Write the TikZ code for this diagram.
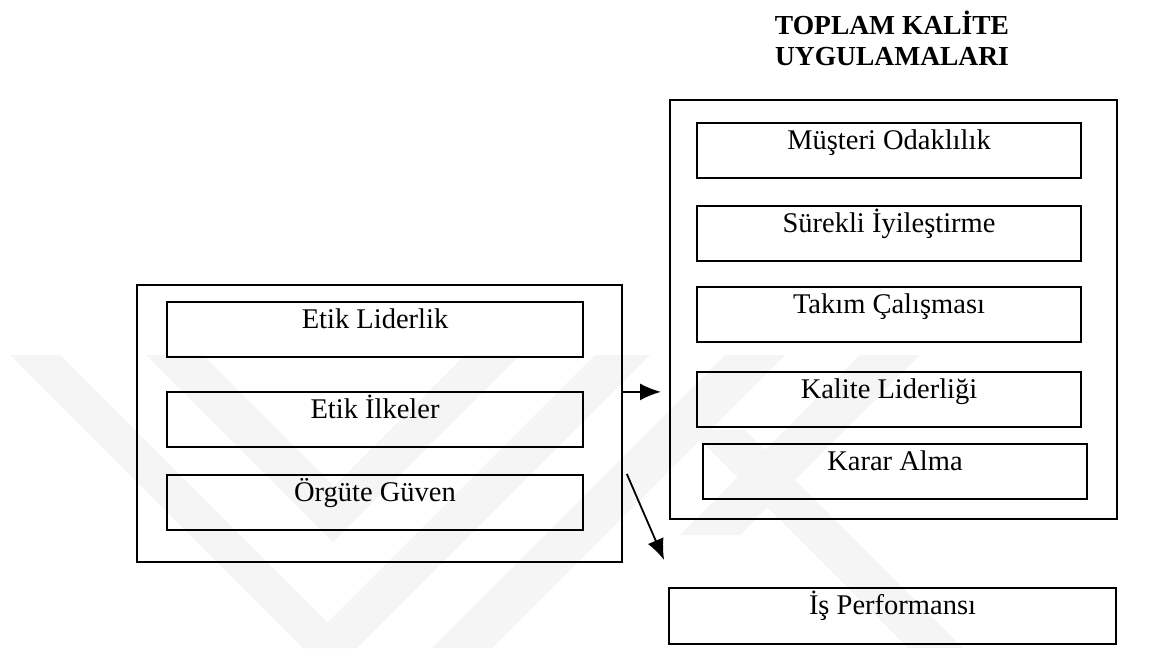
\documentclass[tikz,border=0pt]{standalone}
\usepackage{fontspec}
\setmainfont{Liberation Serif}
\usetikzlibrary{arrows.meta}
\begin{document}
\begin{tikzpicture}[x=1pt,y=1pt,
  every node/.style={font=\fontsize{28.5}{32}\selectfont},
  frame/.style={draw=black, line width=1.8pt, inner sep=0pt},
  itembox/.style={draw=black, line width=1.8pt, inner xsep=0pt, inner ysep=0pt,
    text height=27pt, text depth=28pt, anchor=north},
  arr/.style={line width=1.8pt, -{Latex[length=21pt,width=17pt]}},
  wm/.style={fill=black!4, draw=none}]
\useasboundingbox (0,0) rectangle (1167,-648);
% faint watermark
\begin{scope}
\clip (0,-355) rectangle (1167,-648);
\fill[wm] (10,-355) -- (60,-355) -- (353,-648) -- (303,-648) -- cycle;
\fill[wm] (595,-355) -- (650,-355) -- (357,-648) -- (302,-648) -- cycle;
\fill[wm] (146,-355) -- (203,-355) -- (361.5,-513.5) -- (333,-542) -- cycle;
\fill[wm] (465,-355) -- (520,-355) -- (333,-542) -- (305.5,-514.5) -- cycle;
\fill[wm] (725,-355) -- (785,-355) -- (492,-648) -- (432,-648) -- cycle;
\fill[wm] (860,-355) -- (920,-355) -- (740,-535) -- (680,-535) -- cycle;
\fill[wm] (690,-430) -- (745,-430) -- (963,-648) -- (908,-648) -- cycle;
\end{scope}
% title
\node[font=\fontsize{27.5}{31}\selectfont\bfseries, anchor=base] (t1) at (892,-34) {TOPLAM KALİTE};
\node[font=\fontsize{27.5}{31}\selectfont\bfseries, anchor=base] (t2) at (892,-65) {UYGULAMALARI};
% left group
\node[frame, minimum width=485pt, minimum height=277pt, anchor=north west] (L) at (136,-284) {};
\node[itembox, minimum width=416pt] (l1) at (375,-301) {Etik Liderlik};
\node[itembox, minimum width=416pt] (l2) at (375,-391) {Etik İlkeler};
\node[itembox, minimum width=416pt] (l3) at (375,-474) {Örgüte Güven};
% right group
\node[frame, minimum width=447pt, minimum height=419pt, anchor=north west] (R) at (669,-99) {};
\node[itembox, minimum width=384pt] (r1) at (889,-122) {Müşteri Odaklılık};
\node[itembox, minimum width=384pt] (r2) at (889,-205) {Sürekli İyileştirme};
\node[itembox, minimum width=384pt] (r3) at (889,-286) {Takım Çalışması};
\node[itembox, minimum width=384pt] (r4) at (889,-371) {Kalite Liderliği};
\node[itembox, minimum width=384pt] (r5) at (895,-443) {Karar Alma};
% outcome
\node[itembox, minimum width=447pt, text depth=29pt] (P) at (892.5,-587) {İş Performansı};
% connectors
\draw[arr, shorten >=8pt] ([yshift=31.5pt]L.east) -- ([yshift=31.5pt]L.east -| R.west);
\draw[arr] ([xshift=4pt,yshift=-50.5pt]L.east) -- ([xshift=-4pt,yshift=27pt]P.north west);
\end{tikzpicture}
\end{document}
